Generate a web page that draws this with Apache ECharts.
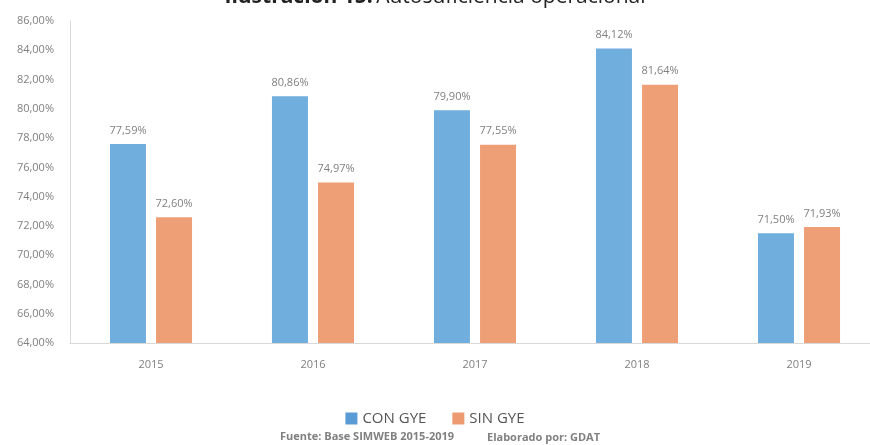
<!DOCTYPE html>
<html>
<head>
<meta charset="utf-8">
<script src="https://cdn.jsdelivr.net/npm/echarts@6/dist/echarts.min.js"></script>
<style>
  html, body { margin: 0; padding: 0; background: #fff; }
  #chart { width: 870px; height: 445px; }
</style>
</head>
<body>
<div id="chart"></div>
<script>
const years = ['2015', '2016', '2017', '2018', '2019']
const conGye = [77.59, 80.86, 79.90, 84.12, 71.50]
const sinGye = [72.60, 74.97, 77.55, 81.64, 71.93]

const fmt = v => v.toFixed(2).replace('.', ',') + '%'
const gray = '#808080'

const chart = echarts.init(document.getElementById('chart'))

chart.setOption({
  animation: false,
  textStyle: { fontFamily: 'Open Sans, sans-serif' },
  graphic: [
    {
      type: 'text',
      left: 'center',
      top: -13,
      style: {
        text: '{b|Ilustración 15:} {n|Autosuficiencia operacional}',
        rich: {
          b: { fontSize: 21, fontWeight: 'bold', fill: '#222', fontFamily: 'Open Sans, sans-serif' },
          n: { fontSize: 21, fill: '#222', fontFamily: 'Open Sans, sans-serif' }
        }
      }
    },
    {
      type: 'text',
      left: 280,
      top: 431,
      style: { text: 'Fuente: Base SIMWEB 2015-2019', fontSize: 11, fontWeight: 'bold', fill: gray, fontFamily: 'Open Sans, sans-serif' }
    },
    {
      type: 'text',
      left: 487,
      top: 432,
      style: { text: 'Elaborado por: GDAT', fontSize: 11, fontWeight: 'bold', fill: gray, fontFamily: 'Open Sans, sans-serif' }
    }
  ],
  legend: {
    bottom: 14,
    left: 'center',
    itemWidth: 12,
    itemHeight: 12,
    itemGap: 26,
    icon: 'rect',
    textStyle: { fontSize: 15, color: '#555' },
    data: [
      { name: 'CON GYE', itemStyle: { color: '#5B9BD5' } },
      { name: 'SIN GYE', itemStyle: { color: '#ED9A70' } }
    ]
  },
  grid: { left: 70, top: 21, width: 810, height: 322, outerBoundsMode: 'none' },
  xAxis: {
    type: 'category',
    data: years,
    axisLine: { lineStyle: { color: '#d9d9d9', width: 1 } },
    axisTick: { show: false },
    axisLabel: { color: gray, fontSize: 11, margin: 16 }
  },
  yAxis: {
    type: 'value',
    min: 64,
    max: 86,
    interval: 2,
    axisLine: { show: true, lineStyle: { color: '#d9d9d9' } },
    splitLine: { show: false },
    axisLabel: { color: gray, fontSize: 11, formatter: v => fmt(v), margin: 16 }
  },
  series: [
    {
      name: 'CON GYE',
      type: 'bar',
      data: conGye,
      barWidth: 36,
      barGap: '28%',
      itemStyle: { color: '#70AEDE' },
      label: { show: true, position: 'top', color: gray, fontSize: 11, distance: 8, formatter: p => fmt(p.value) }
    },
    {
      name: 'SIN GYE',
      type: 'bar',
      data: sinGye,
      barWidth: 36,
      itemStyle: { color: '#EE9F76' },
      label: { show: true, position: 'top', color: gray, fontSize: 11, distance: 8, formatter: p => fmt(p.value) }
    }
  ]
})
</script>
</body>
</html>
